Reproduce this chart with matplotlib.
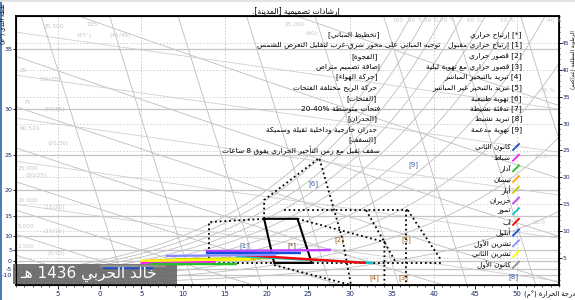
"""
مخطط سايكرومتري مع إرشادات تصميمية (إعادة رسم)
"""

import re
import numpy as np
import matplotlib
matplotlib.use('Agg')
import matplotlib.pyplot as plt
from matplotlib.lines import Line2D
from matplotlib.patches import Rectangle

plt.rcParams['font.family'] = ['DejaVu Sans']

# ---------------- البيانات ----------------
x_ticks = [-5, 0, 5, 10, 15, 20, 25, 30, 35, 40, 45, 50]
right_ticks = [5, 10, 15, 20, 25, 30, 35, 40, 45]
dew_labels = ['35', '30', '25', '20', '15', '10', '5', '0', '-5', '-10']
dew_pos = [43.9, 32.8, 24.1, 17.6, 12.8, 9.2, 6.5, 4.5, 3.0, 1.9]

months = ['كانون الثاني', 'شباط', 'آذار', 'نيسان', 'أيار', 'حزيران',
          'تموز', 'آب', 'أيلول', 'تشرين الأول', 'تشرين الثاني', 'كانون الأول']
month_colors = ['#1f4fc8', '#ff22ff', '#22c022', '#ffa500', '#c8c800', '#c040ff',
                '#00c8c8', '#ff0000', '#1050e0', '#8c8cff', '#ffff00', '#909090']
month_t0 = [0.4, 4.9, 6.1, 6.1, 9.1, 12.7, 16.3, 16.9, 12.7, 7.9, 4.9, 0.1]
month_t1 = [6.4, 13.9, 16.4, 18.7, 20.5, 27.7, 32.7, 31.9, 24.1, 21.1, 18.1, 7.9]
month_h0 = [3.2, 4.1, 3.9, 4.6, 4.8, 6.3, 5.4, 5.6, 5.9, 5.4, 4.5, 3.5]
month_h1 = [3.2, 4.3, 3.9, 4.8, 5.0, 6.5, 4.1, 4.1, 5.9, 5.6, 4.8, 3.5]

# منطقة الإرتياح [*]
comfort_t = [19.7, 23.7, 25.4, 20.9, 19.7]
comfort_h = [12.3, 12.3, 4.1, 4.1, 12.3]

# حدود المناطق الأخرى (خطوط منقطة)
zone_paths = [
    ([19.7, 19.7, 26.3, 29.1, 30.1], [12.3, 15.8, 23.6, 8.4, 0.0]),   # [6]
    ([13.1, 13.1, 19.7], [4.1, 11.7, 12.3]),                          # [1]
    ([23.7, 34.1, 34.1], [12.3, 8.0, 0.0]),
    ([31.9, 34.1, 35.5], [13.9, 8.0, 4.1]),
    ([22.1, 36.9], [13.9, 13.9]),
    ([36.9, 40.9], [13.9, 4.6]),
    ([36.7, 36.7], [13.9, 0.0]),
    ([13.1, 41.1], [4.1, 4.1]),
    ([20.9, 30.1], [3.7, 0.0]),
]

zone_labels = ['[*]', '[1]', '[2]', '[6]', '[9]', '[5]', '[4]', '[3]', '[8]']
zone_label_t = [23.0, 17.3, 28.7, 25.6, 37.6, 36.7, 32.9, 36.4, 49.5]
zone_label_h = [7.4, 7.4, 8.4, 18.8, 22.3, 8.4, 1.3, 1.3, 1.5]
zone_label_c = ['#604020', '#3060a0', '#a05a10', '#3060a0', '#3060a0',
                '#a05a10', '#a05a10', '#a05a10', '#3060a0']

strategies = ['[*] إرتياح حراري', '[1] إرتياح حراري مقبول', '[2] قصور حراري',
              '[3] قصور حراري مع تهوية ليلية', '[4] تبريد بالتبخير المباشر',
              '[5] تبريد بالتبخير غير المباشر', '[6] تهوية طبيعية',
              '[7] تدفئة نشيطة', '[8] تبريد نشيط', '[9] تهوية مدعمة']
strategy_y = [35, 45, 56, 67, 77, 88, 99, 109, 119, 130]

guidelines = ['[تخطيط المباني]',
              'توجيه المباني على محور شرق-غرب لتقليل التعرض للشمس',
              '[الفجوة]', 'إضافة تصميم متراص',
              '[حركة الهواء]', 'حركة الريح مختلفة الفتحات',
              '[الفتحات]', 'فتحات متوسطة 20-40%',
              '[الجدران]', 'جدران خارجية وداخلية ثقيلة وسميكة',
              '[السقف]', 'سقف ثقيل مع زمن التأخير الحراري يفوق 8 ساعات']
guide_x = [380, 440, 378, 380, 378, 377, 377, 380, 377, 377, 377, 380]
guide_y = [35, 45, 57, 67, 77, 88, 99, 109, 119, 130, 140, 150]

faint_texts = ['35.500', '(45°)', '235', '(45/45)', '25', '(35/35)', '75', '(30/35)',
               '60.520', '(25/30)', '25.000', '(20/25)', '20.000', '(15/20)',
               '5.000', '(10/15)', '2.500', '(5/10)', '25.000', '(40)',
               '100', '90 %', '80 %', '70 %', '60 %', '50 %', '40 %', '30 %', '20.0', '10.0']
faint_x = [43, 77, 87, 110, 20, 40, 23, 43, 20, 47, 18, 25, 18, 43, 18, 43, 18, 47, 285, 306,
           392, 408, 424, 440, 467, 500, 547, 540, 535, 532]
faint_y = [27, 35, 25, 35, 70, 80, 103, 110, 128, 143, 168, 175, 200, 208, 227, 232, 247, 253,
           25, 34, 20, 20, 20, 20, 20, 20, 20, 90, 157, 222]


# ---------------- تشكيل النص العربي ----------------
FORMS = {'ء': (0xFE80, 1), 'آ': (0xFE81, 2), 'أ': (0xFE83, 2), 'ؤ': (0xFE85, 2),
         'إ': (0xFE87, 2), 'ئ': (0xFE89, 4), 'ا': (0xFE8D, 2), 'ب': (0xFE8F, 4),
         'ة': (0xFE93, 2), 'ت': (0xFE95, 4), 'ث': (0xFE99, 4), 'ج': (0xFE9D, 4),
         'ح': (0xFEA1, 4), 'خ': (0xFEA5, 4), 'د': (0xFEA9, 2), 'ذ': (0xFEAB, 2),
         'ر': (0xFEAD, 2), 'ز': (0xFEAF, 2), 'س': (0xFEB1, 4), 'ش': (0xFEB5, 4),
         'ص': (0xFEB9, 4), 'ض': (0xFEBD, 4), 'ط': (0xFEC1, 4), 'ظ': (0xFEC5, 4),
         'ع': (0xFEC9, 4), 'غ': (0xFECD, 4), 'ف': (0xFED1, 4), 'ق': (0xFED5, 4),
         'ك': (0xFED9, 4), 'ل': (0xFEDD, 4), 'م': (0xFEE1, 4), 'ن': (0xFEE5, 4),
         'ه': (0xFEE9, 4), 'و': (0xFEED, 2), 'ى': (0xFEEF, 2), 'ي': (0xFEF1, 4)}
LAM_ALEF = {'آ': 0xFEF5, 'أ': 0xFEF7, 'إ': 0xFEF9, 'ا': 0xFEFB}
MIRROR = {'[': ']', ']': '[', '(': ')', ')': '('}


def shape(s):
    out = []
    i, n = 0, len(s)
    while i < n:
        c = s[i]
        prev = s[i - 1] if i > 0 else ''
        jp = (prev in FORMS and FORMS[prev][1] == 4) or prev == 'ـ'
        if c == 'ل' and i + 1 < n and s[i + 1] in LAM_ALEF:
            out.append(chr(LAM_ALEF[s[i + 1]] + (1 if jp else 0)))
            i += 2
            continue
        if c in FORMS:
            base, nf = FORMS[c]
            nxt = s[i + 1] if i + 1 < n else ''
            jn = nf == 4 and ((nxt in FORMS and FORMS[nxt][1] > 1) or nxt == 'ـ')
            if nf == 1:
                jp = False
            f = 3 if (jp and jn) else 1 if jp else 2 if jn else 0
            out.append(chr(base + f))
        else:
            out.append(c)
        i += 1
    return ''.join(out)


def ar(s):
    s = shape(s)
    parts = re.split(r'([0-9A-Za-z][0-9A-Za-z%.\-/]*)', s)
    out = []
    for p in reversed(parts):
        if p and re.match(r'[0-9A-Za-z]', p):
            out.append(p)
        else:
            out.append(''.join(MIRROR.get(c, c) for c in reversed(p)))
    return ''.join(out)


def fx(x):
    return x / 575.0


def fy(y):
    return 1 - y / 300.0


def ws(t):
    ps = 0.61078 * np.exp(17.27 * t / (t + 237.3))
    return 622.0 * ps / (101.325 - ps)


# ---------------- الرسم ----------------
fig = plt.figure(figsize=(5.75, 3.0), dpi=100)
fig.patch.set_facecolor('white')
ax = fig.add_axes([fx(16), 1 - 285 / 300, 543 / 575, 269 / 300])
ax.set_xlim(-10, 55)
ax.set_ylim(0, 50)

T = np.linspace(-10, 55, 300)
grid_c = '#bdbdbd'

# خطوط الرطوبة النسبية
for rh in np.arange(0.1, 1.01, 0.1):
    ax.plot(T, 1.2 * rh * ws(T), color=grid_c, lw=0.6, zorder=1)

# خطوط البصيلة الرطبة
for twb in range(-10, 45, 5):
    w = ((2501 - 2.326 * twb) * ws(twb) - 1006 * (T - twb)) / (2501 + 1.86 * T - 4.186 * twb)
    ax.plot(T, 1.2 * w, color=grid_c, lw=0.6, zorder=1)

# خطوط مائلة خفيفة
for y0 in [47, 39, 31, 23, 15]:
    ax.plot(T, y0 - 0.22 * (T + 10), color='#cfcfcf', lw=0.6, zorder=1)

# خطوط شديدة الميل
H = np.linspace(0, 50, 50)
for t_top in np.arange(-7, 70, 8.2):
    ax.plot(t_top + 0.2 * (50 - H), H, color=grid_c, lw=0.6, zorder=1)

# خطوط أفقية عند نقطة الندى
for yp in dew_pos:
    ax.axhline(yp, color='#c4c4c4', lw=0.9, zorder=1)

# شبكة منقطة
for yp in range(5, 50, 5):
    ax.axhline(yp, color='#cccccc', lw=0.6, ls=(0, (2, 2)), zorder=1)
for xp in [-5, 5, 15, 30, 40, 50]:
    ax.axvline(xp, color='#c4c4c4', lw=0.6, ls=(0, (2, 2)), zorder=1)

# المناطق
for zt, zh in zone_paths:
    ax.plot(zt, zh, color='black', lw=1.3, ls=(0, (1, 1.6)), zorder=3)
ax.plot(comfort_t, comfort_h, color='black', lw=1.5, zorder=4)

for lab, t, h, c in zip(zone_labels, zone_label_t, zone_label_h, zone_label_c):
    ax.text(t, h, lab, color=c, fontsize=5, ha='center', va='center', zorder=4)

# الأشهر
for i in range(12):
    ax.plot([month_t0[i], month_t1[i]], [month_h0[i], month_h1[i]],
            color=month_colors[i], lw=1.7, solid_capstyle='butt', zorder=6)

# المحاور
ax.set_xticks(x_ticks)
ax.set_xticklabels([str(abs(v)) if v < 0 else str(v) for v in x_ticks])
ax.set_xticks(np.arange(-10, 56, 1), minor=True)
ax.set_yticks(dew_pos)
ax.set_yticklabels(dew_labels)
ax.tick_params(axis='both', labelsize=5, length=3, width=0.6, pad=1.2, labelcolor='#1a2a6a')
ax.tick_params(axis='y', labelsize=4.6, length=2, pad=0.8)
ax.tick_params(axis='x', which='minor', length=1.5, width=0.5)
for sp in ax.spines.values():
    sp.set_linewidth(1.3)

ax2 = ax.twinx()
ax2.set_ylim(0, 50)
ax2.set_yticks(right_ticks)
ax2.set_yticks(np.arange(0, 51, 1), minor=True)
ax2.tick_params(axis='y', labelsize=4.3, length=1.8, width=0.6, pad=0.4, labelcolor='#1a2a6a')
ax2.tick_params(axis='y', which='minor', length=1.0, width=0.5)

# نصوص خافتة على الشبكة
for t, x, y in zip(faint_texts, faint_x, faint_y):
    fig.text(fx(x), fy(y), t, fontsize=4.2, color='#c6c6c6', ha='left', va='center')

# العنوان والتسميات
fig.text(fx(340), fy(11), ar('إرشادات تصميمية [المدينة].'), fontsize=5.5,
         ha='right', va='center')
fig.text(fx(3.5), fy(24), ar('نقطة الندى (°م)'), fontsize=4.2, rotation=90,
         ha='center', va='center')
fig.text(fx(573.2), fy(60), ar('الرطوبة المطلقة (غم/كغم)'), fontsize=3.8, rotation=90,
         ha='center', va='center')
fig.text(fx(575), fy(294), ar('درجة الحرارة (°م)'), fontsize=4.8, ha='right', va='center')

for s, y in zip(strategies, strategy_y):
    fig.text(fx(522), fy(y), ar(s), fontsize=5.3, ha='right', va='center')

for s, x, y in zip(guidelines, guide_x, guide_y):
    fig.text(fx(x), fy(y), ar(s), fontsize=5.3, ha='right', va='center')

# مفتاح الأشهر
for i, (m, c) in enumerate(zip(months, month_colors)):
    y = 147 + 10.7 * i
    fig.text(fx(511), fy(y), ar(m), fontsize=5.2, ha='right', va='center')
    fig.add_artist(Line2D([fx(513), fx(519)], [fy(y + 3), fy(y - 3)],
                          color=c, lw=1.3, transform=fig.transFigure))

# العلامة المائية
ax.add_patch(Rectangle((fx(13), fy(284)), 164 / 575, 20 / 300, transform=fig.transFigure,
                       facecolor='#6a6a6a', edgecolor='none', alpha=0.93, zorder=5,
                       clip_on=False))
ax.text(fx(88), fy(274), ar('خالد الحربي 1436 هـ'), transform=fig.transFigure,
        fontsize=11, color='white', ha='center', va='center', zorder=7)

# إطار النافذة
fig.add_artist(Rectangle((0, 0), 2 / 575, 1, transform=fig.transFigure,
                         facecolor='#4a7fb5', edgecolor='none'))
fig.add_artist(Rectangle((0, fy(2)), 1, 2 / 300, transform=fig.transFigure,
                         facecolor='#e4e4e4', edgecolor='none'))

plt.savefig('out.png', dpi=100)
plt.close()
